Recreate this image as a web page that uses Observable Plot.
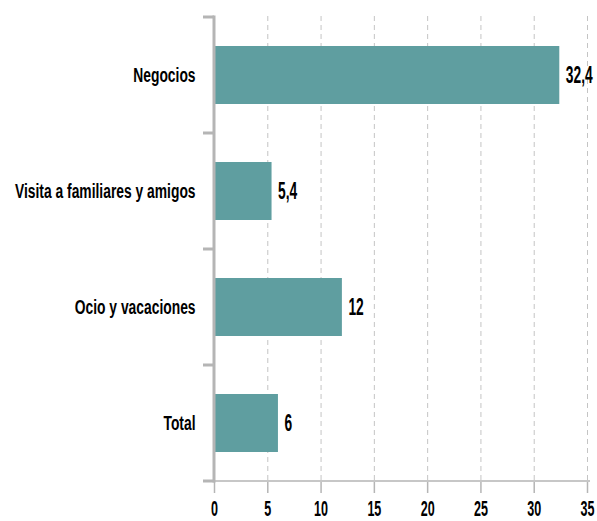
<!DOCTYPE html>
<html><head><meta charset="utf-8">
<script src="https://cdn.jsdelivr.net/npm/d3@7"></script>
<script src="https://cdn.jsdelivr.net/npm/@observablehq/plot@0.6"></script>
<style>
body{margin:0;background:#fff;}
</style></head><body>
<div id="chart"></div>
<script>
const categories = ["Negocios", "Visita a familiares y amigos", "Ocio y vacaciones", "Total"];
const values = [32.4, 5.4, 12, 6];
const labels = ["32,4", "5,4", "12", "6"];
const xTicks = [0, 5, 10, 15, 20, 25, 30, 35];

const data = categories.map((c, i) => ({cat: c, v: values[i], label: labels[i]}));
const AXIS = "#b5b5b5";

function frameAxes(index, scales, values, dim) {
  const ns = "http://www.w3.org/2000/svg";
  const g = document.createElementNS(ns, "g");
  const y = scales.y, x = scales.x;
  const step = y(categories[1]) - y(categories[0]);
  const ys = categories.map(c => y(c));
  ys.push(ys[ys.length - 1] + step);
  const x0 = x(0);
  const mk = (x1, y1, x2, y2, w) => {
    const l = document.createElementNS(ns, "line");
    l.setAttribute("x1", x1); l.setAttribute("x2", x2);
    l.setAttribute("y1", y1); l.setAttribute("y2", y2);
    l.setAttribute("stroke", AXIS); l.setAttribute("stroke-width", w);
    g.appendChild(l);
  };
  const yb = ys[ys.length - 1];
  mk(x0, yb, x(xTicks[xTicks.length - 1]) + 3, yb, 1.5);
  mk(x0, ys[0] - 1.5, x0, yb + 1.5, 3);
  for (const yy of ys) mk(x0 - 11, yy, x0, yy, 3);
  return g;
}

const FONT = '"Liberation Sans", Arial, sans-serif';
const chart = Plot.plot({
  width: 597,
  height: 521,
  marginLeft: 214,
  marginRight: 10,
  marginTop: 16,
  marginBottom: 39,
  style: {fontFamily: FONT, fontSize: "19px", fontWeight: "bold", color: "#000", background: "#fff"},
  x: {domain: [0, 35], ticks: xTicks, label: null},
  y: {domain: categories, padding: 0, label: null},
  marks: [
    Plot.ruleX(xTicks, {stroke: "#c4c4c4", strokeDasharray: "5,4", strokeWidth: 1}),
    Plot.axisX({ticks: xTicks, tickSize: 11, tickPadding: 7, stroke: AXIS, strokeWidth: 1.5, fontSize: 22, fontWeight: "bold", fill: "#000", label: null, className: "xt"}),
    Plot.axisY({tickSize: 0, tickPadding: 19, fontSize: 19.5, fontWeight: "bold", fill: "#000", label: null, className: "yt"}),
    Plot.barX(data, {y: "cat", x: "v", fill: "#5f9ea0", insetTop: 29, insetBottom: 29}),
    Plot.text(data, {y: "cat", x: "v", text: "label", dx: 6, textAnchor: "start", fontSize: 23, fontWeight: "bold", fill: "#000", className: "vl"}),
    frameAxes
  ]
});
document.getElementById("chart").appendChild(chart);

// condense glyphs horizontally (about each text's anchor) to mimic the condensed typeface
const ns = "http://www.w3.org/2000/svg";
function condense(selector, SX) {
  Array.from(chart.querySelectorAll(selector)).forEach(t => {
    const parent = t.parentNode;
    const g = document.createElementNS(ns, "g");
    parent.insertBefore(g, t);
    g.appendChild(t);
    const b = t.getBBox();
    const anchor = getComputedStyle(t).textAnchor;
    const ax = anchor === "end" ? b.x + b.width : anchor === "middle" ? b.x + b.width / 2 : b.x;
    const m = g.getCTM().inverse().multiply(t.getCTM());
    const p = new DOMPoint(ax, b.y + b.height / 2).matrixTransform(m);
    g.setAttribute("transform", `translate(${p.x},0) scale(${SX},1) translate(${-p.x},0)`);
  });
}
condense(".xt text", 0.57);
condense(".yt text", 0.71);
condense(".vl text", 0.6);
</script>
</body></html>
